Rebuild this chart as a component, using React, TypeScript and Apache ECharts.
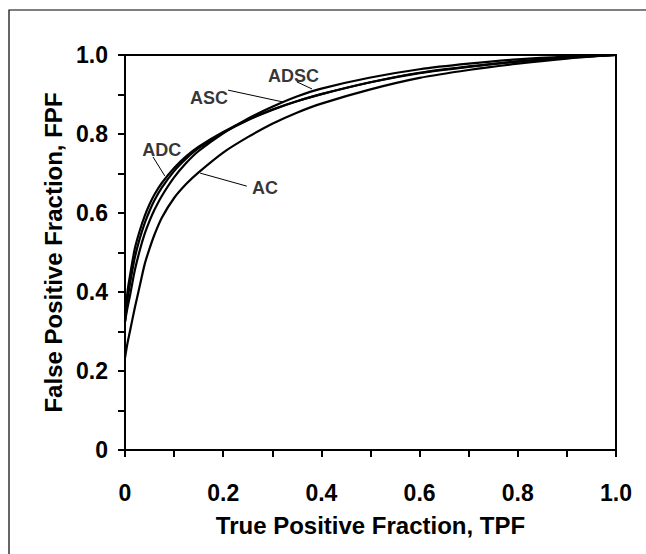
import React, { useEffect, useRef } from "react";
import * as echarts from "echarts";

// TPF (x) grid shared by all curves
const tpf = [0, 0.005, 0.01, 0.02, 0.03, 0.04, 0.05, 0.06, 0.075, 0.1, 0.125, 0.15, 0.2, 0.25, 0.3, 0.35, 0.4, 0.5, 0.6, 0.7, 0.8, 0.9, 1.0];

// FPF values
const fpfAC = [0.233, 0.27, 0.3, 0.36, 0.415, 0.47, 0.51, 0.545, 0.588, 0.638, 0.674, 0.703, 0.753, 0.792, 0.826, 0.854, 0.877, 0.913, 0.942, 0.962, 0.978, 0.991, 1.0];
const fpfADC = [0.325, 0.4, 0.44, 0.51, 0.555, 0.592, 0.622, 0.647, 0.676, 0.714, 0.744, 0.768, 0.805, 0.836, 0.862, 0.883, 0.901, 0.931, 0.955, 0.971, 0.984, 0.993, 1.0];
const fpfASC = [0.325, 0.38, 0.42, 0.487, 0.535, 0.574, 0.605, 0.632, 0.664, 0.706, 0.738, 0.764, 0.803, 0.835, 0.861, 0.883, 0.901, 0.931, 0.954, 0.97, 0.983, 0.993, 1.0];
const fpfADSC = [0.325, 0.36, 0.39, 0.455, 0.505, 0.547, 0.58, 0.608, 0.643, 0.69, 0.727, 0.757, 0.802, 0.839, 0.869, 0.895, 0.915, 0.943, 0.964, 0.978, 0.989, 0.996, 1.0];

// curve annotations (data coordinates)
const labelNames = ["ADSC", "ASC", "ADC", "AC"];
const labelPos = [[0.343, 0.946], [0.171, 0.891], [0.075, 0.759], [0.285, 0.663]];
const leaderFrom = [[0.35, 0.932], [0.21, 0.911], [0.057, 0.742], [0.248, 0.668]];
const leaderTo = [[0.381, 0.914], [0.322, 0.881], [0.081, 0.694], [0.153, 0.701]];

const tickFmt = (v: number) => (v === 0 ? "0" : v.toFixed(1));

export default function App() {
  const ref = useRef<HTMLDivElement>(null);
  useEffect(() => {
    document.body.style.margin = "0";
    const chart = echarts.init(ref.current!, null, { renderer: "svg" });
    const font = "'Liberation Sans', Arial, sans-serif";
    const curves = [fpfAC, fpfADC, fpfASC, fpfADSC].map((ys, i) => ({
      type: "line",
      name: ["AC", "ADC", "ASC", "ADSC"][i],
      data: tpf.map((x, k) => [x, ys[k]]),
      showSymbol: false,
      smooth: 0.3,
      lineStyle: { color: "#000", width: 2.2 },
      z: 3,
    }));
    const leaders = labelNames.map((n, i) => ({
      type: "line",
      name: n + "-leader",
      data: [leaderFrom[i], leaderTo[i]],
      showSymbol: false,
      lineStyle: { color: "#000", width: 1 },
      z: 3,
    }));
    const labels = {
      type: "scatter",
      symbolSize: 0,
      itemStyle: { color: "#000" },
      data: labelNames.map((n, i) => ({ name: n, value: labelPos[i] })),
      label: {
        show: true,
        position: "inside",
        formatter: (p: any) => p.name,
        color: "#000",
        textBorderWidth: 0,
        fontFamily: font,
        fontWeight: "bold",
        fontSize: 18,
      },
      z: 4,
    };
    chart.setOption({
      animation: false,
      backgroundColor: "#fff",
      grid: { left: 125, right: 30, top: 55, bottom: 104, show: true, borderColor: "#000", borderWidth: 2, backgroundColor: "transparent" },
      xAxis: {
        type: "value",
        min: 0,
        max: 1,
        interval: 0.2,
        name: "True Positive Fraction, TPF",
        nameLocation: "middle",
        nameGap: 63,
        nameTextStyle: { fontFamily: font, fontWeight: "bold", fontSize: 24, color: "#000" },
        axisLine: { show: true, onZero: false, lineStyle: { color: "#000", width: 2 } },
        axisTick: { show: true, inside: false, length: 7, lineStyle: { color: "#000", width: 2 } },
        minorTick: { show: true, splitNumber: 2, length: 7, lineStyle: { color: "#000", width: 2 } },
        splitLine: { show: false },
        axisLabel: { formatter: tickFmt, margin: 31, fontFamily: font, fontWeight: "bold", fontSize: 23, color: "#000" },
      },
      yAxis: {
        type: "value",
        min: 0,
        max: 1,
        interval: 0.2,
        name: "False Positive Fraction, FPF",
        nameLocation: "middle",
        nameGap: 58,
        nameTextStyle: { fontFamily: font, fontWeight: "bold", fontSize: 24, color: "#000" },
        axisLine: { show: true, onZero: false, lineStyle: { color: "#000", width: 2 } },
        axisTick: { show: true, inside: false, length: 7, lineStyle: { color: "#000", width: 2 } },
        minorTick: { show: true, splitNumber: 2, length: 7, lineStyle: { color: "#000", width: 2 } },
        splitLine: { show: false },
        axisLabel: { formatter: tickFmt, margin: 17, fontFamily: font, fontWeight: "bold", fontSize: 23, color: "#000" },
      },
      graphic: [
        { type: "polyline", shape: { points: [[9, 560], [9, 10], [650, 10]] }, style: { stroke: "#000", lineWidth: 1.2, fill: "none" }, silent: true },
      ],
      series: [...curves, ...leaders, labels],
    });
    return () => chart.dispose();
  }, []);
  return <div ref={ref} style={{ width: 646, height: 554 }} />;
}
